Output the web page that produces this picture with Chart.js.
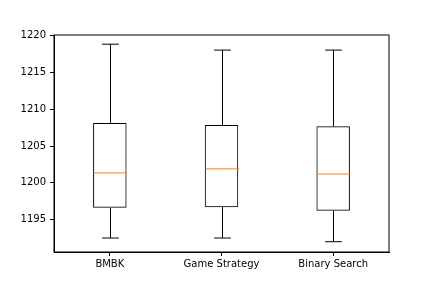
<!DOCTYPE html>
<html>
<head>
<meta charset="utf-8">
<script src="https://cdn.jsdelivr.net/npm/chart.js@4"></script>
<style>
  html, body { margin: 0; padding: 0; background: #fff; }
  #wrap { width: 432px; height: 288px; }
</style>
</head>
<body>
<div id="wrap"><canvas id="chart" width="432" height="288"></canvas></div>
<script>
const categories = ["BMBK", "Game Strategy", "Binary Search"];
const whiskerLow = [1192.5, 1192.5, 1192.0];
const quartile1 = [1196.6, 1196.7, 1196.2];
const medians = [1201.35, 1201.9, 1201.2];
const quartile3 = [1208.15, 1207.85, 1207.7];
const whiskerHigh = [1218.85, 1218.05, 1218.05];
const yTicks = [1195, 1200, 1205, 1210, 1215, 1220];

const font = { family: "'DejaVu Sans', sans-serif", size: 10 };

// bigodes, tampas, mediana e moldura
const boxPlotExtras = {
  id: "boxPlotExtras",
  afterDatasetsDraw(chart) {
    const ctx = chart.ctx;
    const xs = chart.scales.x;
    const ys = chart.scales.y;
    const meta = chart.getDatasetMeta(0);
    ctx.save();
    ctx.lineWidth = 1;
    categories.forEach((c, i) => {
      const x = Math.round(xs.getPixelForValue(i)) + 0.5;
      const w = meta.data[i].width;
      const cap = w / 4;
      const yLo = ys.getPixelForValue(whiskerLow[i]);
      const yQ1 = ys.getPixelForValue(quartile1[i]);
      const yQ3 = ys.getPixelForValue(quartile3[i]);
      const yHi = ys.getPixelForValue(whiskerHigh[i]);
      const yMed = ys.getPixelForValue(medians[i]);
      ctx.strokeStyle = "#000";
      ctx.beginPath();
      ctx.moveTo(x, yQ1);
      ctx.lineTo(x, yLo);
      ctx.moveTo(x, yQ3);
      ctx.lineTo(x, yHi);
      ctx.moveTo(x - cap, yLo);
      ctx.lineTo(x + cap, yLo);
      ctx.moveTo(x - cap, yHi);
      ctx.lineTo(x + cap, yHi);
      ctx.stroke();
      ctx.strokeStyle = "#ff7f0e";
      ctx.beginPath();
      ctx.moveTo(x - w / 2, yMed);
      ctx.lineTo(x + w / 2, yMed);
      ctx.stroke();
    });
    const a = chart.chartArea;
    ctx.strokeStyle = "#000";
    ctx.strokeRect(a.left, a.top, a.right - a.left, a.bottom - a.top);
    ctx.restore();
  },
};

new Chart(document.getElementById("chart"), {
  type: "bar",
  data: {
    labels: categories,
    datasets: [
      {
        data: categories.map((c, i) => [quartile1[i], quartile3[i]]),
        backgroundColor: "rgba(255,255,255,0)",
        borderColor: "#000",
        borderWidth: 1,
        borderSkipped: false,
        barPercentage: 0.3,
        categoryPercentage: 1,
      },
    ],
  },
  options: {
    responsive: false,
    animation: false,
    layout: { padding: { top: 35, right: 43, left: 0, bottom: 0 } },
    plugins: {
      legend: { display: false },
      tooltip: { enabled: false },
    },
    scales: {
      x: {
        offset: true,
        grid: { display: true, offset: false, drawOnChartArea: false, tickLength: 4, color: "#000" },
        border: { display: true, color: "#000" },
        ticks: { color: "#000", font: font, padding: 2, maxRotation: 0 },
        afterFit: (scale) => { scale.height = 36; },
      },
      y: {
        min: 1190.6,
        max: 1220.1,
        afterBuildTicks: (scale) => { scale.ticks = yTicks.map((v) => ({ value: v })); },
        grid: { display: true, drawOnChartArea: false, tickLength: 4, color: "#000" },
        border: { display: true, color: "#000" },
        ticks: { color: "#000", font: font, padding: 4, callback: (v) => String(v) },
        afterFit: (scale) => { scale.width = 54; },
      },
    },
  },
  plugins: [boxPlotExtras],
});
</script>
</body>
</html>
